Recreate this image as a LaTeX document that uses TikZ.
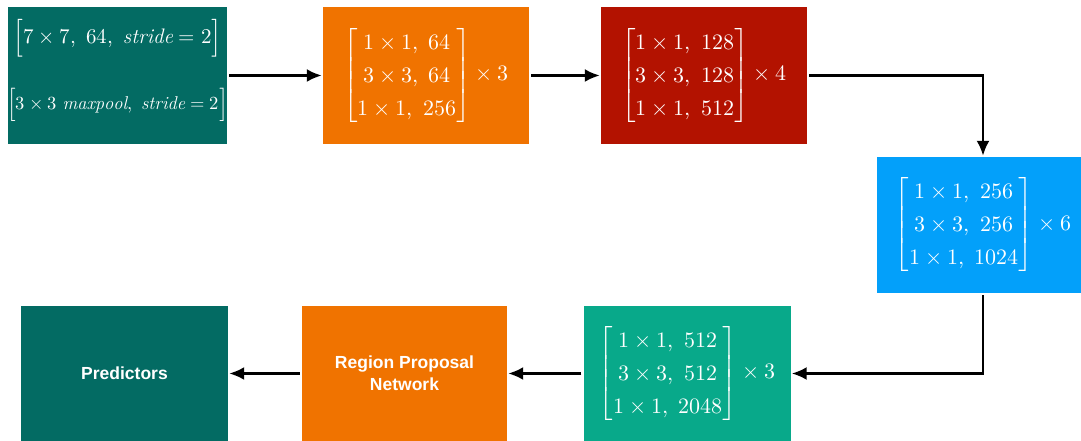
\documentclass[tikz,border=0pt]{standalone}
\usepackage{amsmath}
\usepackage{fontspec}
\usepackage{unicode-math}
\setmathfont{Latin Modern Math}
\setsansfont{Liberation Sans}
\usepackage{tikz}
\usetikzlibrary{arrows.meta,positioning}
\definecolor{darkteal}{RGB}{3,107,99}
\definecolor{stageorange}{RGB}{240,115,0}
\definecolor{stagered}{RGB}{179,18,0}
\definecolor{stageblue}{RGB}{3,160,250}
\definecolor{stagegreen}{RGB}{8,169,138}
\tikzset{
    raw block/.style={rectangle, inner sep=0pt, text=white, align=center},
    stem block/.style={raw block, fill=darkteal, minimum width=219pt, minimum height=137pt},
    stem text/.style={raw block},
    stage block/.style={raw block, minimum width=206pt, minimum height=137pt,
        font=\fontsize{22}{33}\selectfont},
    head block/.style={raw block, minimum width=206pt, minimum height=135pt,
        font=\sffamily\bfseries\fontsize{17.5}{22}\selectfont},
    flow/.style={->, line width=2.5pt, shorten <=2pt, shorten >=1pt}
}

\begin{document}
\begin{tikzpicture}[x=1pt, y=1pt, >={Latex[length=15pt,width=13pt]}]
    \useasboundingbox (0,0) rectangle (1081,441);
    % backbone stages
    \node[stem block] (conv1) at (117.5,365.5) {};
    \node[stem text, font=\fontsize{21}{25}\selectfont] (conv1top) at ([yshift=37pt]conv1.center)
        {$\Bigl[7\times7,\ 64,\ \mathit{stride}=2\Bigr]$};
    \node[stem text, font=\fontsize{18.5}{22}\selectfont] (conv1bot) at ([yshift=-29pt]conv1.center)
        {$\Bigl[3\times3\ \mathit{maxpool},\ \mathit{stride}=2\Bigr]$};
    \node[stage block, fill=stageorange] (conv2) at (426,365.5)
        {$\begin{bmatrix}1\times1,\ 64\\ 3\times3,\ 64\\ 1\times1,\ 256\end{bmatrix}\times3$};
    \node[stage block, fill=stagered] (conv3) at (704,365.5)
        {$\begin{bmatrix}1\times1,\ 128\\ 3\times3,\ 128\\ 1\times1,\ 512\end{bmatrix}\times4$};
    \node[stage block, fill=stageblue, minimum width=212pt, minimum height=136pt] (conv4) at (983,216)
        {$\begin{bmatrix}1\times1,\ 256\\ 3\times3,\ 256\\ 1\times1,\ 1024\end{bmatrix}\times6$};
    \node[stage block, fill=stagegreen, minimum width=207pt, minimum height=135pt] (conv5) at (687,67.5)
        {$\begin{bmatrix}1\times1,\ 512\\ 3\times3,\ 512\\ 1\times1,\ 2048\end{bmatrix}\times3$};
    % detection head
    \node[head block, fill=stageorange, minimum width=205pt] (rpn) at (404.5,67.5)
        {Region Proposal\\Network};
    \node[head block, fill=darkteal, minimum width=207pt] (pred) at (124.5,67.5)
        {Predictors};
    % connections
    \draw[flow] (conv1) -- (conv2);
    \draw[flow] (conv2) -- (conv3);
    \draw[flow] (conv3.east) -| (conv4.north);
    \draw[flow] (conv4.south) |- (conv5.east);
    \draw[flow] (conv5) -- (rpn);
    \draw[flow] (rpn) -- (pred);
\end{tikzpicture}
\end{document}
